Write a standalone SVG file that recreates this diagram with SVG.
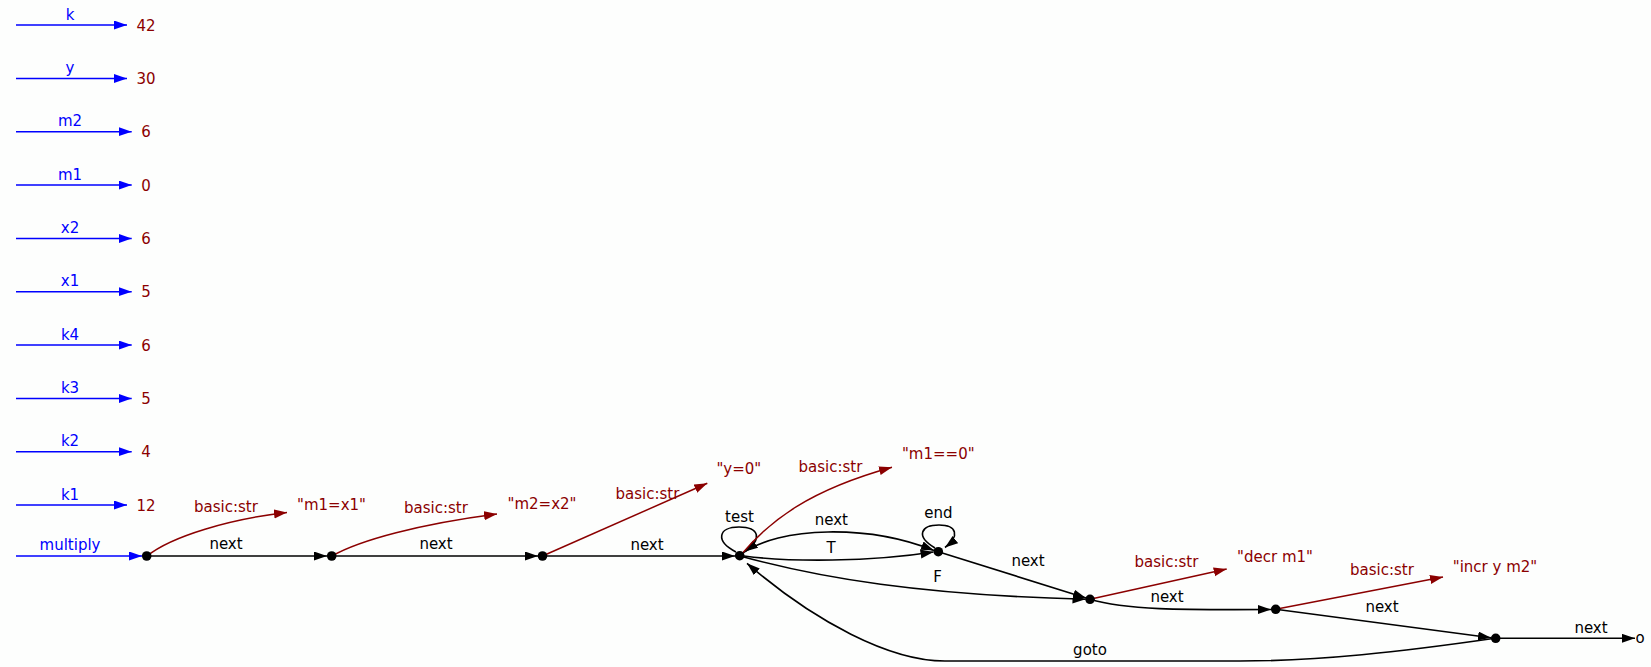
<svg xmlns="http://www.w3.org/2000/svg" width="1651" height="667" viewBox="0 0 1651 667">
<style>
text{font-family:"DejaVu Sans","Liberation Sans",sans-serif;font-size:15px;text-anchor:middle}
.bl{fill:#0000ff}
.rd{fill:#8b0000}
.bk{fill:#000}
.eb{stroke:#0000ff;stroke-width:1.6;fill:none;marker-end:url(#ab)}
.ek{stroke:#000;stroke-width:1.6;fill:none;marker-end:url(#ak)}
.er{stroke:#8b0000;stroke-width:1.5;fill:none;marker-end:url(#ar)}
.dot{fill:#000}
</style>
<defs>
<marker id="ab" markerUnits="userSpaceOnUse" markerWidth="14" markerHeight="10" refX="13" refY="4.5" orient="auto"><path d="M0,0 L13,4.5 L0,9 z" fill="#0000ff"/></marker>
<marker id="ak" markerUnits="userSpaceOnUse" markerWidth="14" markerHeight="10" refX="13" refY="4.5" orient="auto"><path d="M0,0 L13,4.5 L0,9 z" fill="#000"/></marker>
<marker id="ar" markerUnits="userSpaceOnUse" markerWidth="14" markerHeight="10" refX="13" refY="4.5" orient="auto"><path d="M0,0 L13,4.5 L0,9 z" fill="#8b0000"/></marker>
</defs>
<rect width="1651" height="667" fill="#fdfefd"/>

<g id="connectors">
<path class="eb" d="M16,25 H127"/>
<path class="eb" d="M16,78.5 H127"/>
<path class="eb" d="M16,131.7 H131.7"/>
<path class="eb" d="M16,185 H131.7"/>
<path class="eb" d="M16,238.5 H131.7"/>
<path class="eb" d="M16,291.7 H131.7"/>
<path class="eb" d="M16,345 H131.7"/>
<path class="eb" d="M16,398.5 H131.7"/>
<path class="eb" d="M16,451.7 H131.7"/>
<path class="eb" d="M16,505 H127"/>
<path class="eb" d="M16,556 H142"/>

<path class="ek" d="M147,556 H327"/>
<path class="ek" d="M332,556 H538"/>
<path class="ek" d="M543,556 H735"/>
<path class="ek" d="M736,552 C715,541 718,527 739,527 C759,527 763,539 745,551.5"/>
<path class="ek" d="M740,555 C780,525 870,525 934,550.5"/>
<path class="ek" d="M744,556 C790,562 870,562 933.5,552"/>
<path class="ek" d="M935,548 C915,536 921,525 939,525 C957,525 960,536 945,547.5"/>
<path class="ek" d="M740,556 C820,578 920,595 1085.5,599.3"/>
<path class="ek" d="M938.3,551.7 L1086,598"/>
<path class="ek" d="M1090,599.3 C1125,610 1180,610 1271,609.5"/>
<path class="ek" d="M1275.7,609.3 L1491,637.7"/>
<path class="ek" d="M1496,638.3 H1635"/>
<path class="ek" d="M1495,638.3 C1400,652 1320,661 1240,661 L945,661 C890,661 815,622 747,563.3"/>

<path class="er" d="M147,556 C172,536 230,519 287,512.5"/>
<path class="er" d="M332,556 C360,540 420,524 497,514"/>
<path class="er" d="M542.5,556 L707.3,483.3"/>
<path class="er" d="M740,556 C770,520 810,490 892,467.3"/>
<path class="er" d="M1090,599.3 L1226.7,569"/>
<path class="er" d="M1275.7,609.3 L1443,577"/>

<text class="bl" x="70" y="19.5">k</text>
<text class="bl" x="70" y="73">y</text>
<text class="bl" x="70" y="126.2">m2</text>
<text class="bl" x="70" y="179.5">m1</text>
<text class="bl" x="70" y="233">x2</text>
<text class="bl" x="70" y="286.2">x1</text>
<text class="bl" x="70" y="339.5">k4</text>
<text class="bl" x="70" y="393">k3</text>
<text class="bl" x="70" y="446.2">k2</text>
<text class="bl" x="70" y="499.5">k1</text>
<text class="bl" x="70" y="550">multiply</text>

<text class="bk" x="226" y="549.3">next</text>
<text class="bk" x="436" y="549">next</text>
<text class="bk" x="647" y="550">next</text>
<text class="bk" x="739.5" y="521.7">test</text>
<text class="bk" x="831.3" y="525">next</text>
<text class="bk" x="831" y="553.3">T</text>
<text class="bk" x="938.5" y="518.3">end</text>
<text class="bk" x="937.5" y="582.3">F</text>
<text class="bk" x="1028" y="565.7">next</text>
<text class="bk" x="1167" y="601.7">next</text>
<text class="bk" x="1382" y="611.7">next</text>
<text class="bk" x="1591" y="633.3">next</text>
<text class="bk" x="1090" y="655">goto</text>

<text class="rd" x="226" y="511.7">basic:str</text>
<text class="rd" x="436" y="513.3">basic:str</text>
<text class="rd" x="647.5" y="499">basic:str</text>
<text class="rd" x="830.5" y="471.7">basic:str</text>
<text class="rd" x="1166.5" y="567">basic:str</text>
<text class="rd" x="1382" y="575">basic:str</text>
</g>

<g id="v_k"><text class="rd" x="146" y="30.5">42</text></g>
<g id="v_y"><text class="rd" x="146" y="84">30</text></g>
<g id="v_m2"><text class="rd" x="146" y="137.2">6</text></g>
<g id="v_m1"><text class="rd" x="146" y="190.5">0</text></g>
<g id="v_x2"><text class="rd" x="146" y="244">6</text></g>
<g id="v_x1"><text class="rd" x="146" y="297.2">5</text></g>
<g id="v_k4"><text class="rd" x="146" y="350.5">6</text></g>
<g id="v_k3"><text class="rd" x="146" y="404">5</text></g>
<g id="v_k2"><text class="rd" x="146" y="457.2">4</text></g>
<g id="v_k1"><text class="rd" x="146" y="510.5">12</text></g>

<g id="n0"><circle class="dot" cx="146.7" cy="556" r="4.8"/></g>
<g id="n1"><circle class="dot" cx="331.7" cy="556" r="4.8"/></g>
<g id="n2"><circle class="dot" cx="542.5" cy="556" r="4.8"/></g>
<g id="n3"><circle class="dot" cx="739.7" cy="555.7" r="4.8"/></g>
<g id="n4"><circle class="dot" cx="938.3" cy="551.7" r="4.8"/></g>
<g id="n5"><circle class="dot" cx="1090" cy="599.3" r="4.8"/></g>
<g id="n6"><circle class="dot" cx="1275.7" cy="609.3" r="4.8"/></g>
<g id="n7"><circle class="dot" cx="1495.7" cy="638.3" r="4.8"/></g>
<g id="end_o"><text class="bk" x="1640" y="642.7">o</text></g>

<g id="s1"><text class="rd" x="331.5" y="509.5">"m1=x1"</text></g>
<g id="s2"><text class="rd" x="542" y="509.3">"m2=x2"</text></g>
<g id="s3"><text class="rd" x="738.8" y="473.5">"y=0"</text></g>
<g id="s4"><text class="rd" x="938.3" y="459">"m1==0"</text></g>
<g id="s5"><text class="rd" x="1275" y="562">"decr m1"</text></g>
<g id="s6"><text class="rd" x="1495" y="571.7">"incr y m2"</text></g>
</svg>
